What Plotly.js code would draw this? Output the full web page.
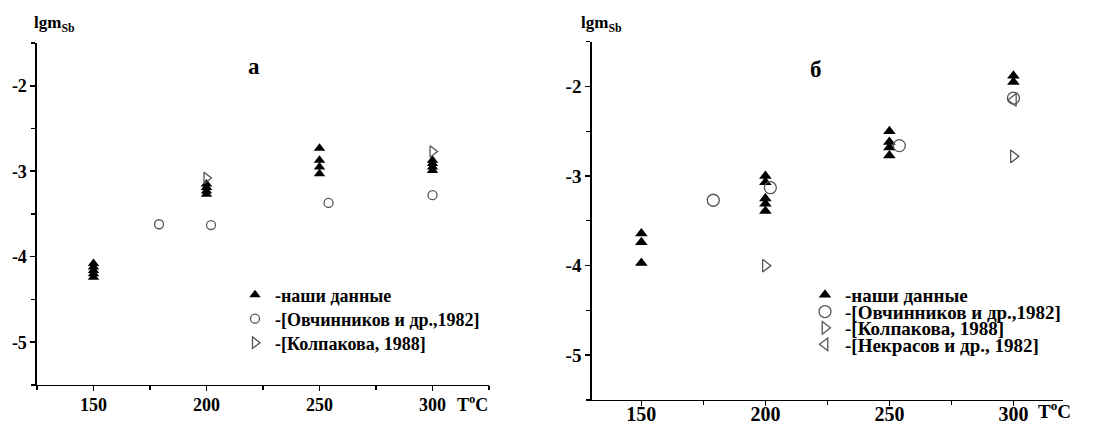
<!DOCTYPE html>
<html>
<head>
<meta charset="utf-8">
<script src="https://cdn.plot.ly/plotly-3.0.1.min.js"></script>
<style>html,body{margin:0;padding:0;background:#fff;}#chart{width:1094px;height:430px;}</style>
</head>
<body>
<div id="chart"></div>
<script>
// ---- Panel "а" ----
const ourT_a = [150,150,150,150,150, 200,200,200,200, 250,250,250,250, 300,300,300,300];
const ourY_a = [-4.08,-4.12,-4.16,-4.20,-4.24, -3.15,-3.19,-3.23,-3.27, -2.73,-2.87,-2.95,-3.03, -2.87,-2.91,-2.95,-2.99];
const ovchT_a = [179,202,254,300];
const ovchY_a = [-3.62,-3.63,-3.37,-3.28];
const kolpT_a = [200,300];
const kolpY_a = [-3.08,-2.77];

// ---- Panel "б" ----
const ourT_b = [150,150,150, 200,200,200,200,200, 250,250,250,250, 300,300];
const ourY_b = [-3.64,-3.74,-3.97, -3.00,-3.07,-3.25,-3.31,-3.39, -2.50,-2.62,-2.68,-2.77, -1.88,-1.95];
const ovchT_b = [179,202,254,300];
const ovchY_b = [-3.27,-3.13,-2.66,-2.13];
const kolpT_b = [200,300];
const kolpY_b = [-4.00,-2.78];
const nekrT_b = [300];
const nekrY_b = [-2.15];

const names = ['-наши данные','-[Овчинников и др.,1982]','-[Колпакова, 1988]','-[Некрасов и др., 1982]'];
const yTickVals = [-5,-4,-3,-2];
const yTickText = ['-5','-4','-3','-2'];
const xTickVals = [150,200,250,300];

const FONT = 'Liberation Serif, Times New Roman, serif';
const GRAY = '#555555';

function tr(x,y,name,xa,ya,legend,sym,size,color,lw){
  return {x:x,y:y,name:name,type:'scatter',mode:'markers',xaxis:xa,yaxis:ya,legend:legend,showlegend:true,
    marker:{symbol:sym,size:size,color:color,line:{color:color,width:lw}}};
}

const data = [
  tr(ourT_a,ourY_a,names[0],'x','y','legend','triangle-up',10,'#000',0),
  tr(ovchT_a,ovchY_a,names[1],'x','y','legend2','circle-open',9,GRAY,1.3),
  tr(kolpT_a,kolpY_a,names[2],'x','y','legend3','triangle-right-open',10,GRAY,1.3),
  tr(ourT_b,ourY_b,names[0],'x2','y2','legend4','triangle-up',11,'#000',0),
  tr(ovchT_b,ovchY_b,names[1],'x2','y2','legend5','circle-open',12,GRAY,1.3),
  tr(kolpT_b,kolpY_b,names[2],'x2','y2','legend6','triangle-right-open',11,GRAY,1.3),
  tr(nekrT_b,nekrY_b,names[3],'x2','y2','legend7','triangle-left-open',11,GRAY,1.3)
];

function xax(domain,range,anchor,fs,standoff){
  return {domain:domain,range:range,anchor:anchor,showgrid:false,zeroline:false,
    showline:true,linecolor:'#000',linewidth:1.5,ticks:'outside',ticklen:5,tickwidth:1.5,tickcolor:'#000',
    tickvals:xTickVals,ticktext:xTickVals.map(String),ticklabelstandoff:standoff,
    minor:{tickmode:'array',tickvals:[125,175,225,275,325],ticks:'outside',ticklen:4,tickwidth:1.2,tickcolor:'#000'},
    tickfont:{family:FONT,size:fs,color:'#000',weight:'bold'}};
}
function yax(domain,anchor,fs){
  return {domain:domain,range:[-5.5,-1.5],anchor:anchor,showgrid:false,zeroline:false,
    showline:true,linecolor:'#000',linewidth:1.5,ticks:'outside',ticklen:5,tickwidth:1.5,tickcolor:'#000',
    tickvals:yTickVals,ticktext:yTickText,
    minor:{tickmode:'array',tickvals:[-5.5,-4.5,-3.5,-2.5,-1.5],ticks:'outside',ticklen:4,tickwidth:1.2,tickcolor:'#000'},
    tickfont:{family:FONT,size:fs,color:'#000',weight:'bold'}};
}

function leg(xpx,ypx,fs){
  return {x:xpx/1094,y:(430-ypx)/430,xanchor:'left',yanchor:'middle',
    font:{family:FONT,size:fs,color:'#000',weight:'bold'},bgcolor:'rgba(0,0,0,0)',borderwidth:0,itemclick:false,visible:true};
}

const layout = {
  width:1094,height:430,margin:{l:0,r:0,t:0,b:0},
  paper_bgcolor:'#fff',plot_bgcolor:'#fff',
  showlegend:true,
  font:{family:FONT,color:'#000'},
  xaxis:xax([0.0338,0.447],[125,325],'y',18,-2),
  yaxis:yax([0.1047,0.90],'x',18),
  xaxis2:xax([0.5409,0.9717],[130,320],'y2',20,-9),
  yaxis2:yax([0.0698,0.903],'x2',19),
  legend:leg(235,295,18),
  legend2:leg(235,319,18),
  legend3:leg(235,343,18),
  legend4:leg(805,295,19),
  legend5:leg(805,311.7,19),
  legend6:leg(805,328,19),
  legend7:leg(805,344.5,19),
  annotations:[
    {xref:'paper',yref:'paper',x:32/1094,y:(430-24)/430,xanchor:'left',yanchor:'middle',showarrow:false,
     text:'<b>lgm<sub>Sb</sub></b>',font:{family:FONT,size:17,color:'#000'}},
    {xref:'paper',yref:'paper',x:579/1094,y:(430-24)/430,xanchor:'left',yanchor:'middle',showarrow:false,
     text:'<b>lgm<sub>Sb</sub></b>',font:{family:FONT,size:17,color:'#000'}},
    {xref:'paper',yref:'paper',x:254/1094,y:(430-66)/430,xanchor:'center',yanchor:'middle',showarrow:false,
     text:'<b>а</b>',font:{family:FONT,size:23,color:'#000'}},
    {xref:'paper',yref:'paper',x:816/1094,y:(430-69)/430,xanchor:'center',yanchor:'middle',showarrow:false,
     text:'<b>б</b>',font:{family:FONT,size:23,color:'#000'}},
    {xref:'paper',yref:'paper',x:490/1094,y:(430-403)/430,xanchor:'right',yanchor:'middle',showarrow:false,
     text:'<b>T<sup>o</sup>C</b>',font:{family:FONT,size:18,color:'#000'}},
    {xref:'paper',yref:'paper',x:1073/1094,y:(430-410)/430,xanchor:'right',yanchor:'middle',showarrow:false,
     text:'<b>T<sup>o</sup>C</b>',font:{family:FONT,size:19,color:'#000'}}
  ]
};

Plotly.newPlot('chart',data,layout,{staticPlot:true,displayModeBar:false});
</script>
</body>
</html>
